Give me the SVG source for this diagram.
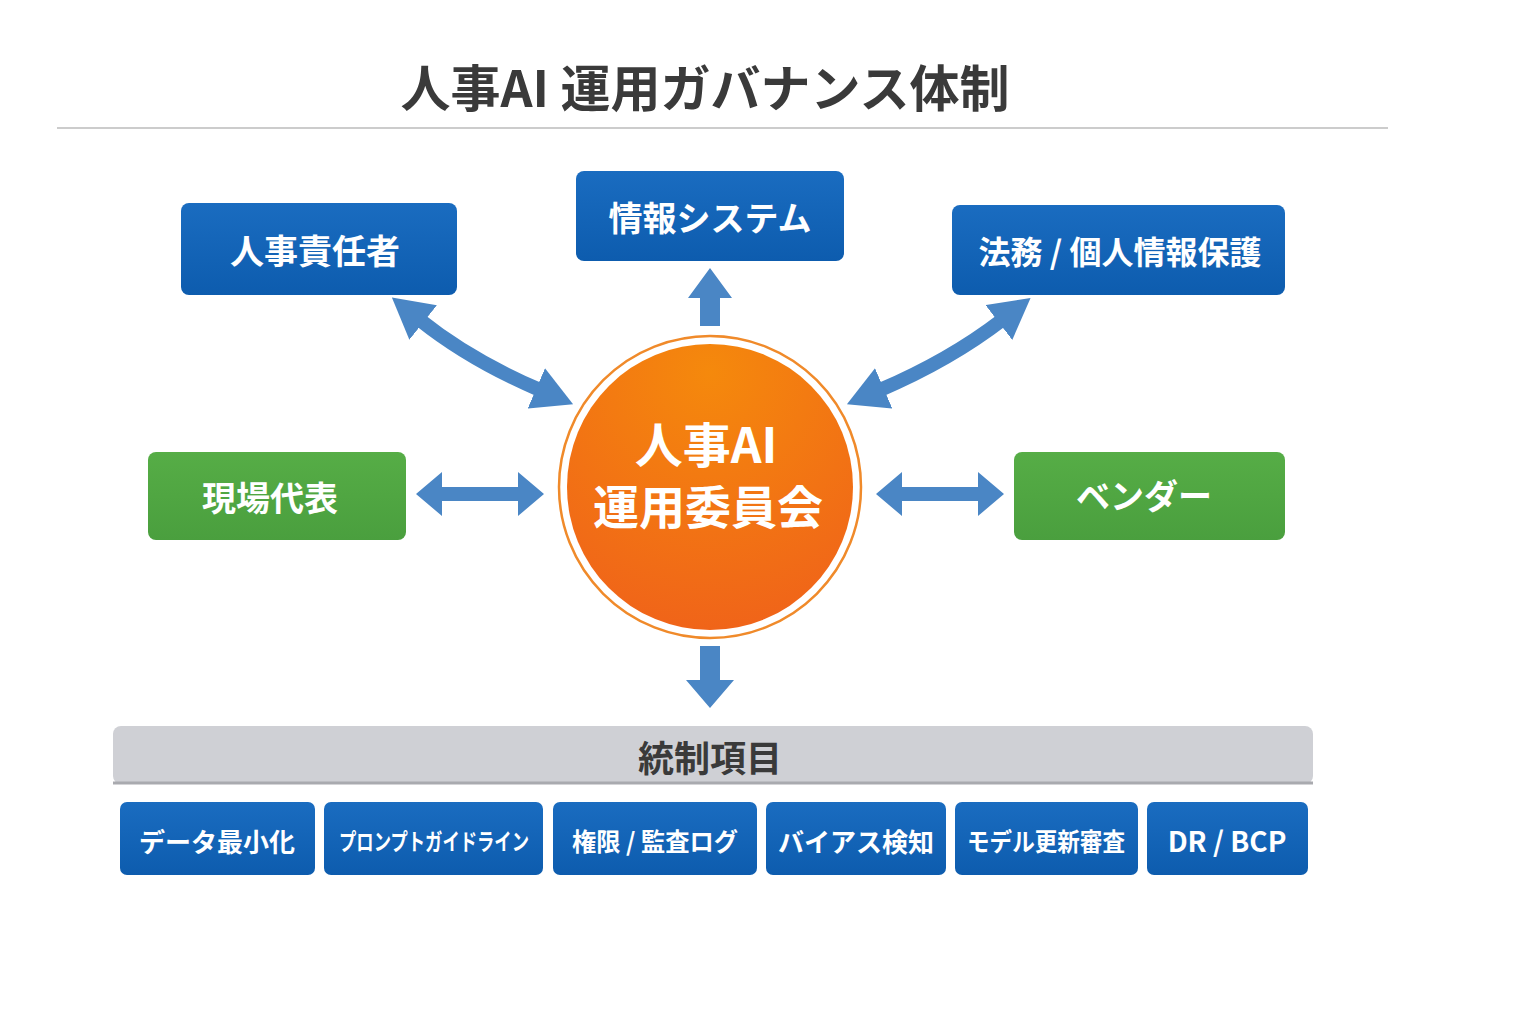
<svg xmlns="http://www.w3.org/2000/svg" width="1536" height="1024" viewBox="0 0 1536 1024">
<defs>
<linearGradient id="bl" x1="0" y1="0" x2="0" y2="1"><stop offset="0" stop-color="#1a6cc0"/><stop offset="1" stop-color="#0d5cae"/></linearGradient>
<linearGradient id="gr" x1="0" y1="0" x2="0" y2="1"><stop offset="0" stop-color="#56ad46"/><stop offset="1" stop-color="#4a9f3e"/></linearGradient>
<radialGradient id="og" cx="0.5" cy="0.1" r="0.9"><stop offset="0" stop-color="#f5890c"/><stop offset="1" stop-color="#f06419"/></radialGradient>
<marker id="ah" viewBox="0 0 40 44" refX="4" refY="22" markerWidth="40" markerHeight="44" markerUnits="userSpaceOnUse" orient="auto-start-reverse"><path d="M0,0 L40,22 L0,44 Z" fill="#4a86c5"/></marker>
</defs>
<style>
.t{font-family:"Noto Sans CJK JP","Noto Sans",sans-serif;font-weight:700;text-anchor:middle;dominant-baseline:central;fill:#fff}
.b{fill:url(#bl)}
.g{fill:url(#gr)}
.a{fill:#4a86c5}
</style>
<rect width="1536" height="1024" fill="#fff"/>
<text class="t" x="705" y="85" font-size="50" style="fill:#3a3a3a">人事AI 運用ガバナンス体制</text>
<line x1="57" y1="128" x2="1388" y2="128" stroke="#cccccc" stroke-width="2"/>
<g id="connectors">
<path d="M420,320 Q470,360 540,390" fill="none" stroke="#4a86c5" stroke-width="14" marker-start="url(#ah)" marker-end="url(#ah)"/>
<path d="M1002,320 Q950,360 880,390" fill="none" stroke="#4a86c5" stroke-width="14" marker-start="url(#ah)" marker-end="url(#ah)"/>
<polygon class="a" points="700,326 720,326 720,298 732,298 710,268 688,298 700,298"/>
<polygon class="a" points="700,646 720,646 720,680 734,680 710,708 686,680 700,680"/>
<polygon class="a" points="416,494 442,472 442,487 518,487 518,472 544,494 518,516 518,501 442,501 442,516"/>
<polygon class="a" points="876,494 902,472 902,487 978,487 978,472 1004,494 978,516 978,501 902,501 902,516"/>
</g>
<g id="center">
<circle cx="710" cy="487" r="151" fill="#fff" stroke="#f08a2a" stroke-width="2.5"/>
<circle cx="710" cy="487" r="143" fill="url(#og)"/>
<text class="t" x="706" y="442" font-size="48">人事AI</text>
<text class="t" x="708" y="504" font-size="46">運用委員会</text>
</g>
<g id="hr"><rect class="b" x="181" y="203" width="276" height="92" rx="8"/><text class="t" x="315" y="249" font-size="34">人事責任者</text></g>
<g id="is"><rect class="b" x="576" y="171" width="268" height="90" rx="8"/><text class="t" x="710" y="216" font-size="34">情報システム</text></g>
<g id="legal"><rect class="b" x="952" y="205" width="333" height="90" rx="8"/><text class="t" x="1120" y="250" font-size="32">法務 / 個人情報保護</text></g>
<g id="field"><rect class="g" x="148" y="452" width="258" height="88" rx="8"/><text class="t" x="270" y="496" font-size="34">現場代表</text></g>
<g id="vendor"><rect class="g" x="1014" y="452" width="271" height="88" rx="8"/><text class="t" x="1144" y="494" font-size="34">ベンダー</text></g>
<g id="controls">
<rect x="113" y="726" width="1200" height="58" rx="8" fill="#cfd0d5"/>
<line x1="113" y1="783" x2="1313" y2="783" stroke="#a9aaaf" stroke-width="3"/>
<text class="t" x="710" y="756" font-size="36" style="fill:#3a3a3a">統制項目</text>
</g>
<g id="c1"><rect class="b" x="120" y="802" width="195" height="73" rx="7"/><text class="t" x="217" y="840" font-size="26">データ最小化</text></g>
<g id="c2"><rect class="b" x="324" y="802" width="219" height="73" rx="7"/><text class="t" x="434" y="840" font-size="23" textLength="190" lengthAdjust="spacingAndGlyphs">プロンプトガイドライン</text></g>
<g id="c3"><rect class="b" x="553" y="802" width="204" height="73" rx="7"/><text class="t" x="655" y="840" font-size="25" textLength="166" lengthAdjust="spacingAndGlyphs">権限 / 監査ログ</text></g>
<g id="c4"><rect class="b" x="766" y="802" width="180" height="73" rx="7"/><text class="t" x="856" y="840" font-size="26">バイアス検知</text></g>
<g id="c5"><rect class="b" x="955" y="802" width="183" height="73" rx="7"/><text class="t" x="1046" y="840" font-size="25" textLength="158" lengthAdjust="spacingAndGlyphs">モデル更新審査</text></g>
<g id="c6"><rect class="b" x="1147" y="802" width="161" height="73" rx="7"/><text class="t" x="1227" y="840" font-size="28">DR / BCP</text></g>
</svg>
